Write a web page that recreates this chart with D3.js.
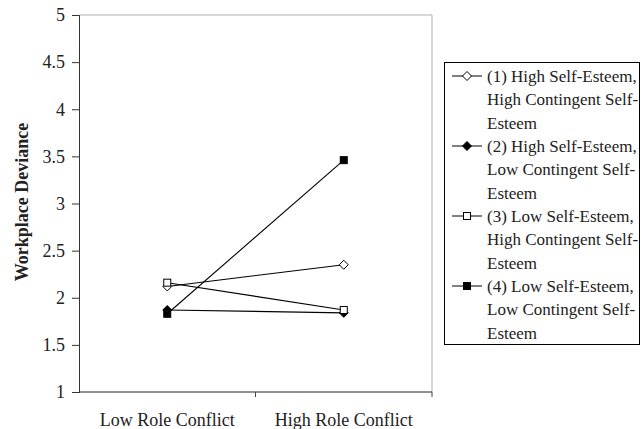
<!DOCTYPE html>
<html><head><meta charset="utf-8">
<script src="https://cdn.jsdelivr.net/npm/d3@7"></script>
<style>body{margin:0;background:#fff}svg{display:block}text{font-family:"Liberation Serif","Times New Roman",serif}</style>
</head><body><svg id="c" width="642" height="429"></svg>
<script>
const categories = ["Low Role Conflict", "High Role Conflict"];
const yTicks = [1, 1.5, 2, 2.5, 3, 3.5, 4, 4.5, 5];
const yTickLabels = ["1", "1.5", "2", "2.5", "3", "3.5", "4", "4.5", "5"];
const seriesNames = [
  ["(1) High Self-Esteem,", "High Contingent Self-", "Esteem"],
  ["(2) High Self-Esteem,", "Low Contingent Self-", "Esteem"],
  ["(3) Low Self-Esteem,", "High Contingent Self-", "Esteem"],
  ["(4) Low Self-Esteem,", "Low Contingent Self-", "Esteem"]
];
const s1 = [2.12, 2.35];
const s2 = [1.87, 1.84];
const s3 = [2.16, 1.87];
const s4 = [1.83, 3.46];
const yTitle = "Workplace Deviance";

const series = [
  {vals: s1, shape: "diamond", fill: "#fff"},
  {vals: s2, shape: "diamond", fill: "#000"},
  {vals: s3, shape: "square", fill: "#fff"},
  {vals: s4, shape: "square", fill: "#000"}
];

const svg = d3.select("#c");
const L = 79, R = 432, T = 15, B = 392;
const x = d3.scaleBand().domain(categories).range([L, R]);
const y = d3.scaleLinear().domain([1, 5]).range([B, T]);

// top and right light borders
svg.append("path").attr("d", `M${L},${T}H${R}V${B}`).attr("fill", "none").attr("stroke", "#b0b0b0").attr("stroke-width", 1);

// y axis
const ya = svg.append("g").attr("transform", `translate(${L},0)`)
  .call(d3.axisLeft(y).tickValues(yTicks).tickFormat((d, i) => yTickLabels[i]).tickSize(7).tickPadding(7));
ya.select(".domain").attr("stroke", "#333");
ya.selectAll(".tick line").attr("stroke", "#333");
ya.selectAll("text").attr("font-size", 18).attr("fill", "#222").attr("font-family", "Liberation Serif");

// x axis
const xa = svg.append("g").attr("transform", `translate(0,${B})`)
  .call(d3.axisBottom(x).tickSize(0).tickPadding(21));
xa.select(".domain").attr("stroke", "#222").attr("d", `M${L},0H${R}`);
xa.selectAll("text").attr("font-size", 18).attr("fill", "#222").attr("font-family", "Liberation Serif");
// boundary ticks
[L + x.step(), R].forEach(v => {
  svg.append("line").attr("x1", v).attr("x2", v).attr("y1", B).attr("y2", B + 5).attr("stroke", "#444");
});

// y title
svg.append("text").attr("transform", `translate(28,202) rotate(-90)`)
  .attr("text-anchor", "middle").attr("font-size", 18).attr("font-weight", "bold").attr("fill", "#222").text(yTitle);

function marker(g, shape, fill, cx, cy) {
  if (shape === "diamond") {
    g.append("path").attr("d", `M${cx},${cy - 4.5}L${cx + 4.5},${cy}L${cx},${cy + 4.5}L${cx - 4.5},${cy}Z`)
      .attr("fill", fill).attr("stroke", "#000").attr("stroke-width", 1);
  } else {
    g.append("rect").attr("x", cx - 3.5).attr("y", cy - 3.5).attr("width", 7).attr("height", 7)
      .attr("fill", fill).attr("stroke", "#000").attr("stroke-width", 1);
  }
}

const cx = c => x(c) + x.bandwidth() / 2;
const line = d3.line().x((d, i) => cx(categories[i])).y(d => y(d));
const plot = svg.append("g");
series.forEach(s => {
  plot.append("path").attr("d", line(s.vals)).attr("fill", "none").attr("stroke", "#000").attr("stroke-width", 1.1);
});
[1, 3, 0, 2].forEach(k => {
  const s = series[k];
  s.vals.forEach((v, i) => marker(plot, s.shape, s.fill, cx(categories[i]), y(v)));
});

// legend
const lg = svg.append("g");
lg.append("rect").attr("x", 444.5).attr("y", 62.5).attr("width", 195).attr("height", 282)
  .attr("fill", "#fff").attr("stroke", "#000").attr("stroke-width", 1);
const lh = 70 / 3;
series.forEach((s, k) => {
  const y0 = 76 + k * 3 * lh;
  lg.append("line").attr("x1", 452).attr("x2", 482).attr("y1", y0).attr("y2", y0).attr("stroke", "#000");
  marker(lg, s.shape, s.fill, 467, y0);
  seriesNames[k].forEach((t, j) => {
    lg.append("text").attr("x", 487).attr("y", y0 + j * lh + 6).attr("font-size", 17).attr("fill", "#222").text(t);
  });
});
</script></body></html>
